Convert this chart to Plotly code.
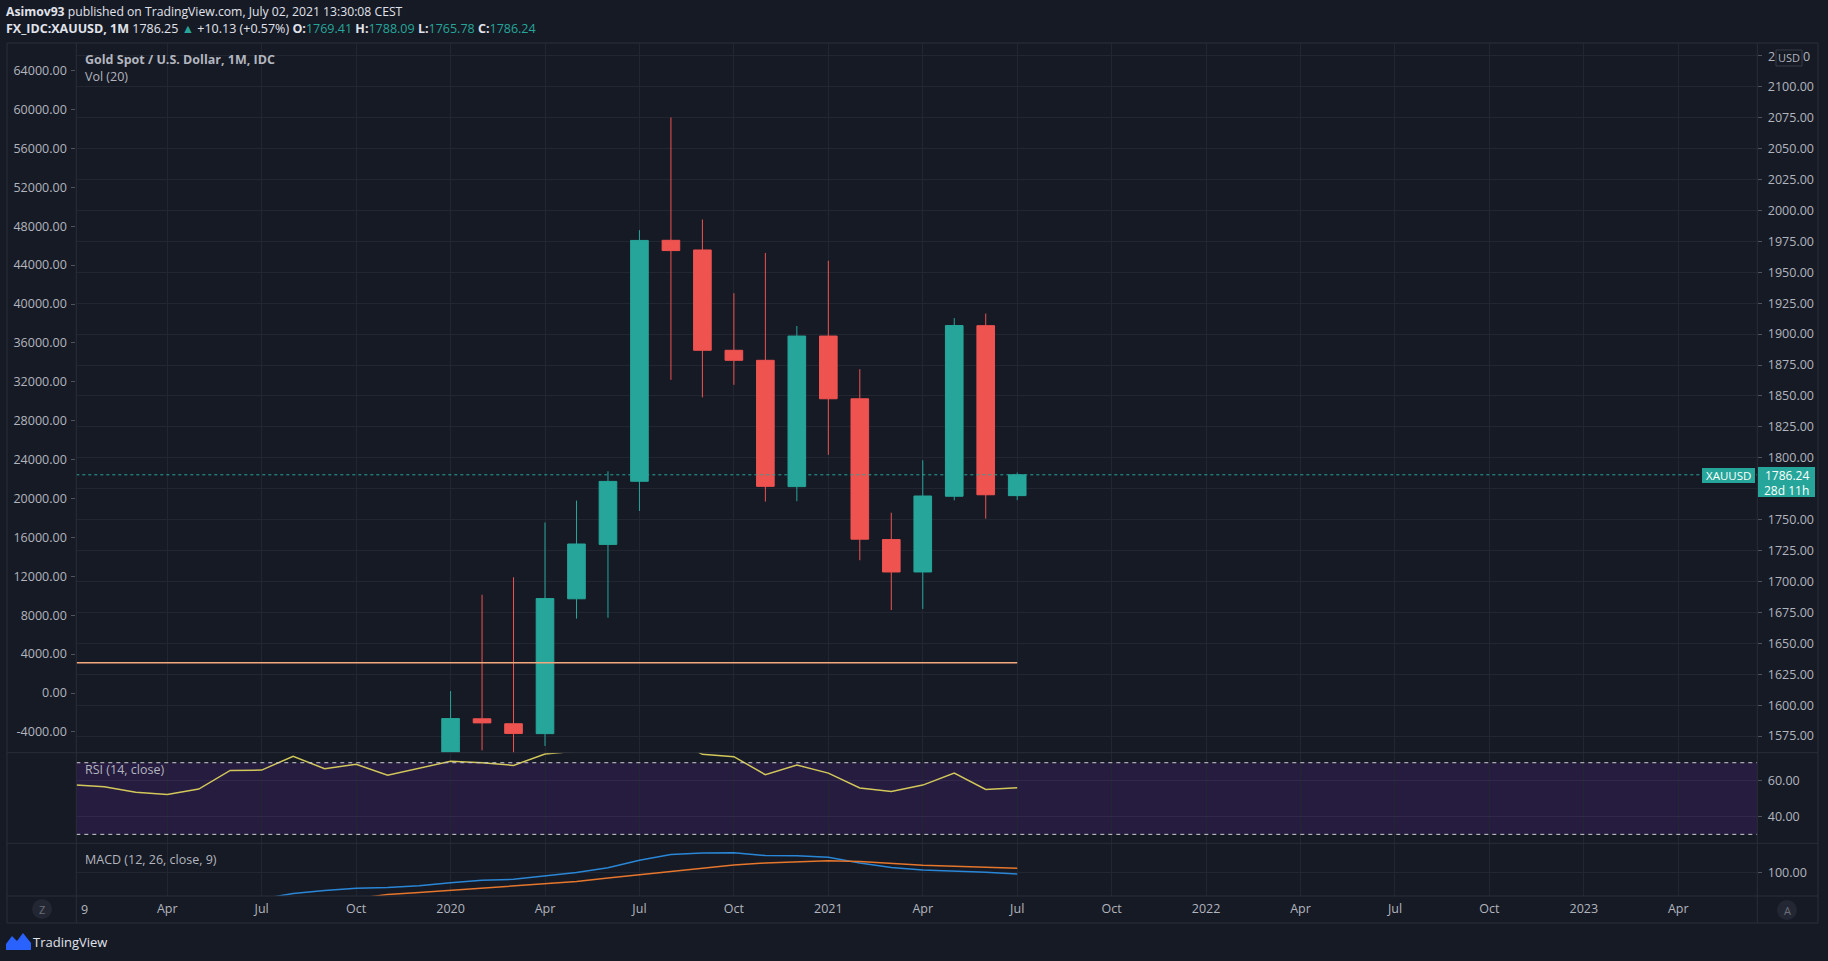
import plotly.graph_objects as go

W, H = 1828, 961


def X(px):
    return px / W


def Y(py):
    return 1 - py / H


# ---------------- data ----------------
months = ["2019-01", "2019-02", "2019-03", "2019-04", "2019-05", "2019-06",
          "2019-07", "2019-08", "2019-09", "2019-10", "2019-11", "2019-12",
          "2020-01", "2020-02", "2020-03", "2020-04", "2020-05", "2020-06",
          "2020-07", "2020-08", "2020-09", "2020-10", "2020-11", "2020-12",
          "2021-01", "2021-02", "2021-03", "2021-04", "2021-05", "2021-06",
          "2021-07"]

candle_months = months[12:]
opens = [1517.0, 1589.0, 1585.0, 1577.0, 1686.0, 1730.0, 1781.0, 1975.8, 1968.0,
         1886.9, 1878.8, 1776.7, 1898.4, 1847.7, 1733.9, 1707.7, 1768.9, 1906.8, 1769.41]
highs = [1611.4, 1689.3, 1703.4, 1747.7, 1765.4, 1789.1, 1984.0, 2075.1, 1992.6,
         1933.0, 1965.6, 1906.5, 1959.3, 1871.6, 1755.6, 1798.0, 1912.9, 1916.6, 1788.09]
lows = [1517.0, 1563.5, 1451.0, 1567.0, 1670.0, 1670.7, 1757.0, 1863.0, 1848.8,
        1859.0, 1764.6, 1764.9, 1802.4, 1717.2, 1676.9, 1677.8, 1765.6, 1750.8, 1765.78]
closes = [1589.2, 1585.7, 1577.2, 1686.2, 1730.3, 1780.9, 1975.7, 1967.5, 1886.9,
          1878.8, 1776.9, 1898.4, 1847.7, 1734.2, 1707.7, 1769.1, 1906.9, 1770.1, 1786.24]

rsi_values = [57.7, 56.6, 53.5, 52.3, 55.3, 65.7, 65.9, 73.6, 66.6, 69.1, 63.0, 66.9,
              70.8, 70.0, 68.5, 74.9, 76.5, 79.0, 86.0, 84.0, 74.7, 73.4, 63.3, 68.7,
              64.2, 55.9, 54.0, 57.5, 64.2, 55.1, 56.0]

macd_months = months[6:]
macd_values = [47.4, 58.6, 64.4, 69.0, 70.6, 74.0, 80.0, 84.8, 86.8, 93.4, 100.6,
               109.8, 124.8, 136.4, 139.6, 140.0, 134.4, 134.0, 130.8, 119.4, 110.4,
               105.5, 104.0, 101.0, 97.5]
signal_months = months[9:]
signal_values = [48.0, 56.6, 60.2, 64.4, 68.6, 73.0, 77.0, 82.4, 89.4, 96.2, 102.6,
                 109.2, 115.6, 119.4, 122.2, 124.0, 122.2, 118.2, 115.0, 113.0, 111.0,
                 109.0]

vol_ma_months = ["2019-01", "2021-07"]
vol_ma_values = [3100, 3100]

price_ticks = [1575, 1600, 1625, 1650, 1675, 1700, 1725, 1750, 1775, 1800, 1825,
               1850, 1875, 1900, 1925, 1950, 1975, 2000, 2025, 2050, 2075, 2100, 2125]
hidden_price_ticks = [1775, 2125]   # covered by the price label / USD button
vol_ticks = [-4000, 0, 4000, 8000, 12000, 16000, 20000, 24000, 28000, 32000, 36000,
             40000, 44000, 48000, 52000, 56000, 60000, 64000]
rsi_ticks = [40, 60]
macd_ticks = [100]

time_tick_months = ["2019-04", "2019-07", "2019-10", "2020-01", "2020-04", "2020-07",
                    "2020-10", "2021-01", "2021-04", "2021-07", "2021-10", "2022-01",
                    "2022-04", "2022-07", "2022-10", "2023-01", "2023-04"]
time_tick_labels = ["Apr", "Jul", "Oct", "2020", "Apr", "Jul", "Oct", "2021", "Apr",
                    "Jul", "Oct", "2022", "Apr", "Jul", "Oct", "2023", "Apr"]

last_price_label = "1786.24"
countdown_label = "28d 11h"


def idx(m):
    y, mo = m.split("-")
    return (int(y) - 2019) * 12 + int(mo) - 1


# ---------------- style ----------------
BG = "#161a25"
GRID = "#222631"
BORDER = "#2a2e39"
TXT = "#b2b5be"
GREEN = "#26a69a"
RED = "#ef5350"
FONT = "Open Sans"
FS = 12.5

XR = [0.111, 53.51]
XD = [X(76.3), X(1757.3)]
MAIN_D = [Y(752.7), Y(43)]
RSI_D = [Y(843.3), Y(752.7)]
MACD_D = [Y(896), Y(843.3)]

fig = go.Figure()

fig.add_trace(go.Candlestick(
    x=[idx(m) for m in candle_months], open=opens, high=highs, low=lows, close=closes,
    increasing=dict(line=dict(color=GREEN, width=1), fillcolor=GREEN),
    decreasing=dict(line=dict(color=RED, width=1), fillcolor=RED),
    whiskerwidth=0, xaxis="x", yaxis="y", showlegend=False, hoverinfo="skip"))

fig.add_trace(go.Scatter(
    x=[idx(m) for m in vol_ma_months], y=vol_ma_values, mode="lines",
    line=dict(color="#f2a77c", width=1.5), xaxis="x", yaxis="y2",
    showlegend=False, hoverinfo="skip"))

fig.add_trace(go.Scatter(
    x=[idx(m) for m in months], y=rsi_values, mode="lines",
    line=dict(color="#d2c75a", width=1.5), xaxis="x2", yaxis="y3",
    showlegend=False, hoverinfo="skip"))

fig.add_trace(go.Scatter(
    x=[idx(m) for m in macd_months], y=macd_values, mode="lines",
    line=dict(color="#2a86d6", width=1.5), xaxis="x3", yaxis="y4",
    showlegend=False, hoverinfo="skip"))
fig.add_trace(go.Scatter(
    x=[idx(m) for m in signal_months], y=signal_values, mode="lines",
    line=dict(color="#e5762c", width=1.5), xaxis="x3", yaxis="y4",
    showlegend=False, hoverinfo="skip"))

tickvals_x = [idx(m) for m in time_tick_months]
common_x = dict(range=XR, domain=XD, tickvals=tickvals_x, showgrid=True,
                gridcolor=GRID, gridwidth=1, zeroline=False, showline=False,
                fixedrange=True, automargin=False)
common_y = dict(zeroline=False, ticks="outside", ticklen=4, tickcolor="#50535e",
                fixedrange=True, automargin=False)

fig.update_layout(
    width=W, height=H, margin=dict(l=0, r=0, t=0, b=0, autoexpand=False),
    paper_bgcolor=BG, plot_bgcolor=BG, boxgap=0.2,
    font=dict(family=FONT, size=FS, color=TXT),
    xaxis=dict(**common_x, anchor="y", showticklabels=False,
               rangeslider=dict(visible=False)),
    xaxis2=dict(**common_x, anchor="y3", showticklabels=False),
    xaxis3=dict(**common_x, anchor="y4", showticklabels=True,
                ticktext=time_tick_labels, ticks="", ticklabelstandoff=3,
                tickfont=dict(family=FONT, size=FS, color=TXT)),
    yaxis=dict(**common_y, domain=MAIN_D, anchor="x", side="right", range=[1561.6, 2135.3],
               tickvals=price_ticks,
               ticktext=["" if v in hidden_price_ticks else f"{v:.2f}" for v in price_ticks],
               showgrid=True, gridcolor=GRID, ticklabelstandoff=3),
    yaxis2=dict(**common_y, overlaying="y", anchor="x", side="left", range=[-6139, 66838],
                tickvals=vol_ticks, ticktext=[f"{v:.2f}" for v in vol_ticks],
                showgrid=False, ticklabelstandoff=2),
    yaxis3=dict(**common_y, domain=RSI_D, anchor="x2", side="right", range=[25, 75.6],
                tickvals=rsi_ticks, ticktext=[f"{v:.2f}" for v in rsi_ticks],
                showgrid=True, gridcolor="#31284a", ticklabelstandoff=3),
    yaxis4=dict(**common_y, domain=MACD_D, anchor="x3", side="right", range=[53.4, 158.8],
                tickvals=macd_ticks, ticktext=[f"{v:.2f}" for v in macd_ticks],
                showgrid=True, gridcolor=GRID, ticklabelstandoff=3),
)

shapes = []
# RSI band and bounds
shapes.append(dict(type="rect", xref="x2 domain", yref="y3", x0=0, x1=1, y0=30, y1=70,
                   fillcolor="#261c3f", line=dict(width=0), layer="below"))
for lvl in (30, 70):
    shapes.append(dict(type="line", xref="x2 domain", yref="y3", x0=0, x1=1, y0=lvl, y1=lvl,
                       line=dict(color="#cfd0d4", width=1, dash="4px,4px"), layer="above"))
# last price dotted line
shapes.append(dict(type="line", xref="x domain", yref="y", x0=0, x1=1,
                   y0=closes[-1], y1=closes[-1],
                   line=dict(color=GREEN, width=1, dash="dot"), layer="above"))
# frame & separators
shapes.append(dict(type="rect", xref="paper", yref="paper", x0=X(7), x1=X(1818),
                   y0=Y(923), y1=Y(43), line=dict(color=BORDER, width=1), layer="above"))
for py in (752.7, 843.3, 896):
    shapes.append(dict(type="line", xref="paper", yref="paper", x0=X(7), x1=X(1818),
                       y0=Y(py), y1=Y(py), line=dict(color=BORDER, width=1), layer="above"))
for px in (76.3, 1757.3):
    shapes.append(dict(type="line", xref="paper", yref="paper", x0=X(px), x1=X(px),
                       y0=Y(923), y1=Y(43), line=dict(color=BORDER, width=1), layer="above"))
# price labels
shapes.append(dict(type="rect", xref="paper", yref="paper", x0=X(1702), x1=X(1755),
                   y0=Y(483), y1=Y(468), fillcolor=GREEN, line=dict(width=0), layer="above"))
shapes.append(dict(type="rect", xref="paper", yref="paper", x0=X(1758), x1=X(1815),
                   y0=Y(497), y1=Y(467), fillcolor=GREEN, line=dict(width=0), layer="above"))
# Z / A buttons
for cx, cy in ((42, 909), (1787, 910)):
    shapes.append(dict(type="circle", xref="paper", yref="paper", x0=X(cx - 10), x1=X(cx + 10),
                       y0=Y(cy + 10), y1=Y(cy - 10), fillcolor="#232733",
                       line=dict(width=0), layer="above"))
# USD box
shapes.append(dict(type="rect", xref="paper", yref="paper", x0=X(1776), x1=X(1802),
                   y0=Y(66), y1=Y(50), fillcolor=BG, line=dict(color="#363a45", width=1),
                   layer="above"))
# TradingView logo
logo_pts = [(6, 950), (6, 944), (12, 936), (17, 941), (23, 933), (31, 943), (31, 950)]
path = "M " + " L ".join(f"{X(a):.5f},{Y(b):.5f}" for a, b in logo_pts) + " Z"
shapes.append(dict(type="path", xref="paper", yref="paper", path=path,
                   fillcolor="#2962ff", line=dict(width=0), layer="above"))

fig.update_layout(shapes=shapes)

ann = []


def note(px, py, text, size=FS, color=TXT, xanchor="left"):
    ann.append(dict(x=X(px), y=Y(py), xref="paper", yref="paper", text=text,
                    showarrow=False, xanchor=xanchor, yanchor="middle",
                    font=dict(family=FONT, size=size, color=color)))


note(4, 12, "<b>Asimov93</b> published on TradingView.com, July 02, 2021 13:30:08 CEST",
     size=12.2, color="#e0e3eb")
g = GREEN
note(4, 29, "<b>FX_IDC:XAUUSD, 1M</b> 1786.25 "
            f"<span style='color:{g}'>▲</span> +10.13 (+0.57%) "
            f"<b>O:</b><span style='color:{g}'>1769.41</span> "
            f"<b>H:</b><span style='color:{g}'>1788.09</span> "
            f"<b>L:</b><span style='color:{g}'>1765.78</span> "
            f"<b>C:</b><span style='color:{g}'>1786.24</span>",
     size=12.5, color="#e0e3eb")
note(83, 60, "<b>Gold Spot / U.S. Dollar, 1M, IDC</b>", size=12.5, color=TXT)
note(83, 77, "Vol (20)", size=12.5, color=TXT)
note(83, 769, "RSI (14, close)", size=12.5, color=TXT)
note(83, 859, "MACD (12, 26, close, 9)", size=12.5, color=TXT)
note(79, 909, "9", size=FS, color=TXT)
note(1728.5, 476, "XAUUSD", size=11.5, color="#ffffff", xanchor="center")
note(1786.5, 475, last_price_label, size=12, color="#ffffff", xanchor="center")
note(1786.5, 490, countdown_label, size=12, color="#ffffff", xanchor="center")
note(42, 909, "Z", size=11, color="#6a6d78", xanchor="center")
note(1787, 910, "A", size=11, color="#6a6d78", xanchor="center")
note(1789, 58, "USD", size=11, color=TXT, xanchor="center")
note(1771, 56, "2", size=FS, color=TXT, xanchor="center")
note(1806, 56, "0", size=FS, color=TXT, xanchor="center")
note(31, 942, "TradingView", size=13, color="#e0e3eb")

fig.update_layout(annotations=ann)

page_js = ("document.body.style.margin='0';document.body.style.padding='0';"
           "document.body.style.background='#161a25';"
           "document.body.style.overflow='hidden';")

fig.write_html("out.html", post_script=page_js,
               config={"displayModeBar": False, "staticPlot": True})
